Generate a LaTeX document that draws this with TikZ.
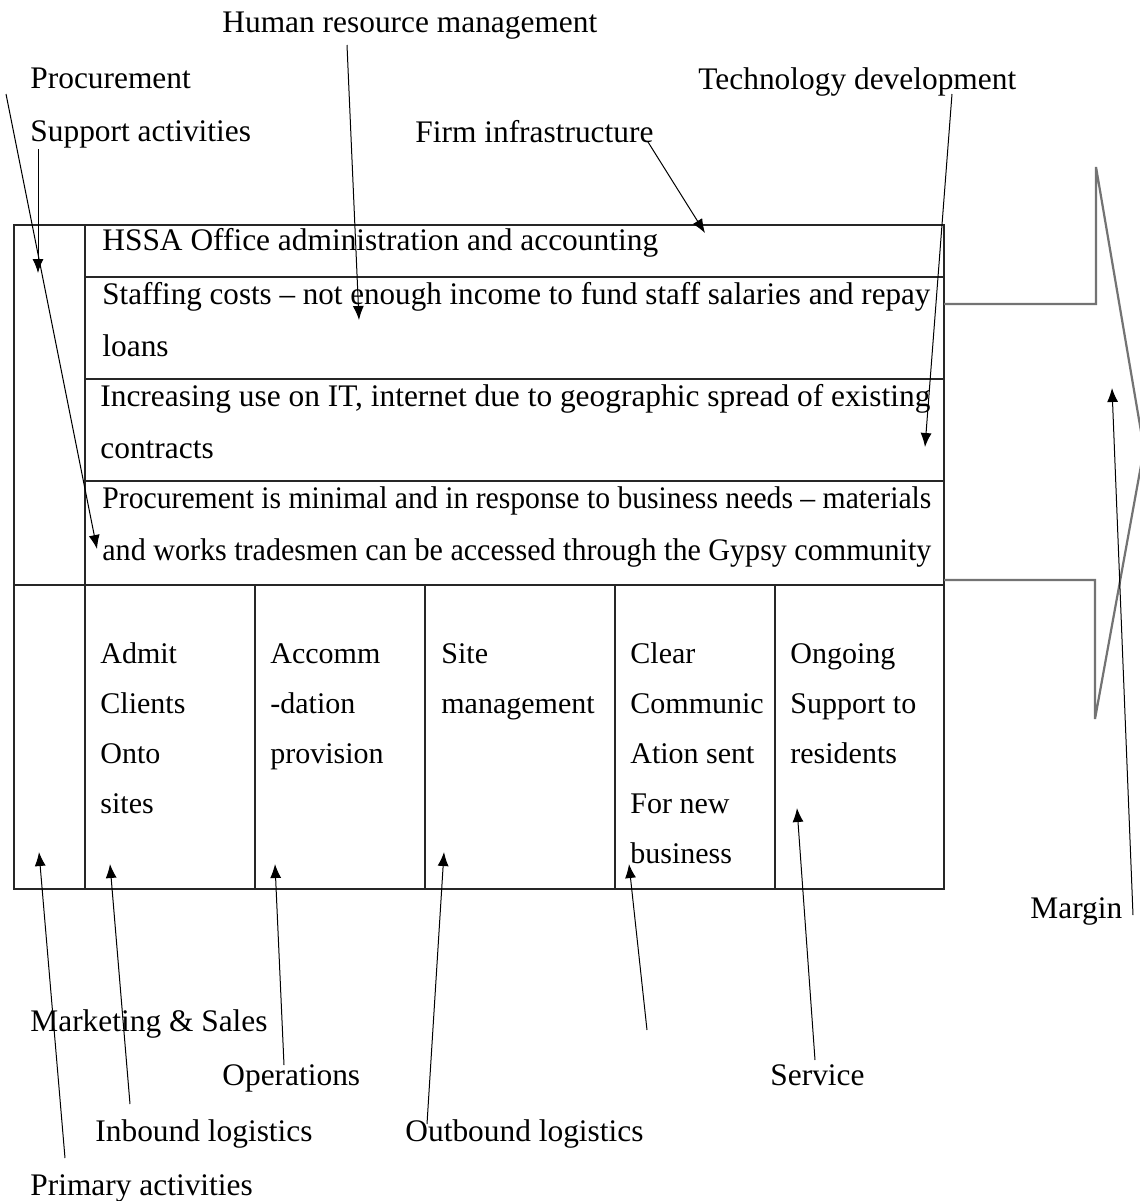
\documentclass[tikz,border=0pt]{standalone}
\usepackage{fontspec}
\setmainfont{Liberation Serif}
\usetikzlibrary{arrows.meta}
\newlength\jlen
\newcommand\jline[2]{\settowidth\jlen{#2}\ifdim\jlen>#1\relax\resizebox{#1}{\height}{#2}\else\makebox[#1][s]{#2}\fi}
\tikzset{
  lbl/.style={anchor=base west, inner sep=0pt, font=\fontsize{15.7}{25}\selectfont},
  cell/.style={anchor=base west, inner sep=0pt, align=left, font=\fontsize{15}{25}\selectfont},
  boxline/.style={line width=0.8pt, black!85},
  marginline/.style={line width=1.1pt, black!55},
  ptr/.style={line width=0.5pt, -{Latex[length=7pt,width=5.5pt]}},
}
\begin{document}
\begin{tikzpicture}[x=0.5pt,y=-0.5pt]
\useasboundingbox (0,0) rectangle (1140,1201);
% --- frame ---
\draw[boxline] (14,225) rectangle (944,889);
\draw[boxline] (85,225) -- (85,889);
\draw[boxline] (85,277) -- (944,277);
\draw[boxline] (85,379) -- (944,379);
\draw[boxline] (85,481) -- (944,481);
\draw[boxline] (14,585) -- (944,585);
\foreach \x in {255,425,615,775} \draw[boxline] (\x,585) -- (\x,889);
% --- margin arrow outline ---
\draw[marginline] (944,304) -- (1096,304) -- (1096,167) -- (1144,449) -- (1095,719) -- (1095,580) -- (944,580);
% --- support rows ---
\node[lbl] (r1) at (102,250) {HSSA Office administration and accounting};
\node[lbl] (r2a) at (102,304) {\jline{414pt}{Staffing costs – not enough income to fund staff salaries and repay}};
\node[lbl] (r2b) at (102,356) {loans};
\node[lbl] (r3a) at (100,406) {\jline{415pt}{Increasing use on IT, internet due to geographic spread of existing}};
\node[lbl] (r3b) at (100,458) {contracts};
\node[lbl] (r4a) at (102,508) {\jline{414.5pt}{Procurement is minimal and in response to business needs – materials}};
\node[lbl] (r4b) at (102,560) {\jline{414.5pt}{and works tradesmen can be accessed through the Gypsy community}};
% --- primary cells (base = last line's baseline) ---
\node[cell] (c1) at (100,813) {Admit\\Clients\\Onto\\sites};
\node[cell] (c2) at (270,763) {Accomm\\-dation\\provision};
\node[cell] (c3) at (441,713) {Site\\management};
\node[cell] (c4) at (630,863) {Clear\\Communic\\Ation sent\\For new\\business};
\node[cell] (c5) at (790,763) {Ongoing\\Support to\\residents};
% --- labels ---
\node[lbl] (hr) at (222,32) {Human resource management};
\node[lbl] (proc) at (30,88) {Procurement};
\node[lbl] (supp) at (30,141) {Support activities};
\node[lbl] (tech) at (698,89) {Technology development};
\node[lbl] (firm) at (415,142) {Firm infrastructure};
\node[lbl] (marg) at (1030,918) {Margin};
\node[lbl] (mkt) at (30,1031) {Marketing \& Sales};
\node[lbl] (ops) at (222,1085) {Operations};
\node[lbl] (serv) at (770,1085) {Service};
\node[lbl] (inb) at (95,1141) {Inbound logistics};
\node[lbl] (outb) at (405,1141) {Outbound logistics};
\node[lbl] (prim) at (30,1195) {Primary activities};
% --- connector end points ---
\coordinate (hrS) at (347,45);   \coordinate (hrE) at (359,320);
\coordinate (prS) at (6,94);     \coordinate (prE) at (97,549);
\coordinate (suS) at (38,149);   \coordinate (suE) at (38,273);
\coordinate (fiS) at (648,142);  \coordinate (fiE) at (705,233);
\coordinate (teS) at (952,94);   \coordinate (teE) at (925,447);
\coordinate (maS) at (1133,915); \coordinate (maE) at (1112,388);
\coordinate (paS) at (65,1158);  \coordinate (paE) at (39,852);
\coordinate (ibS) at (130,1104); \coordinate (ibE) at (110,864);
\coordinate (opS) at (284,1065); \coordinate (opE) at (275,864);
\coordinate (obS) at (427,1124); \coordinate (obE) at (444,852);
\coordinate (msS) at (647,1030); \coordinate (msE) at (629,864);
\coordinate (svS) at (815,1060); \coordinate (svE) at (797,808);
\foreach \a in {hr,pr,su,fi,te,ma,pa,ib,op,ob,ms,sv}
  \draw[ptr] (\a S) -- (\a E);
\end{tikzpicture}
\end{document}
